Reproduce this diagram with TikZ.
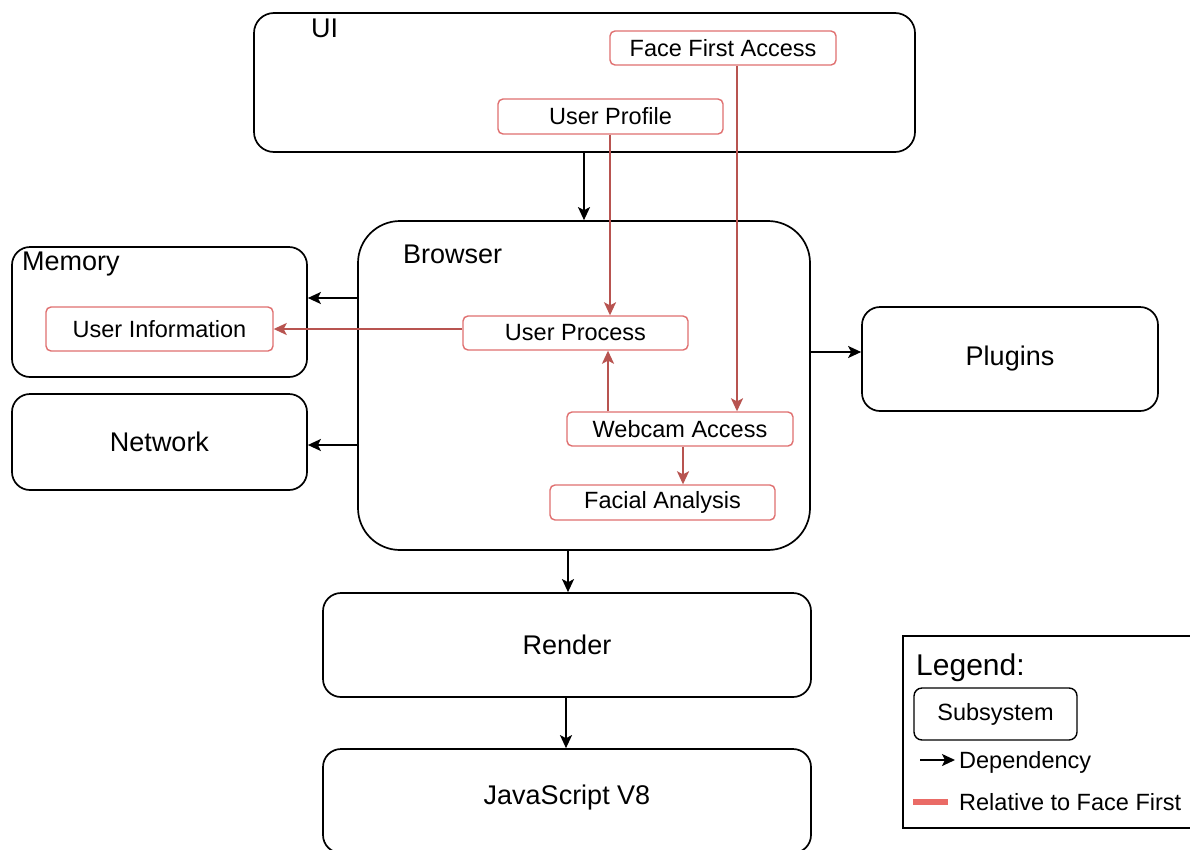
\documentclass[tikz,border=0pt]{standalone}
\usepackage{fontspec}
\setmainfont{Liberation Sans}
\usetikzlibrary{arrows.meta}
\definecolor{relline}{HTML}{B85450}
\definecolor{relbox}{HTML}{E07070}
\definecolor{relbar}{HTML}{EA6B66}
\newcommand\fsml{\fontsize{23.5}{28}\selectfont}
\newcommand\fbig{\fontsize{27}{32}\selectfont}
\newcommand\fleg{\fontsize{30}{34}\selectfont}
\tikzset{
  sub/.style={draw=black, line width=1.7pt, rounded corners=18pt, fill=white, inner sep=0pt, font=\fbig},
  rbox/.style={draw=relbox, line width=1.4pt, rounded corners=5pt, fill=white, inner sep=0pt, font=\fsml},
  dep/.style={draw=black, line width=1.7pt, -{Stealth[length=13pt,width=12pt,inset=3pt]}},
  rel/.style={draw=relline, line width=1.7pt, -{Stealth[length=13pt,width=12pt,inset=3pt]}},
  lbl/.style={inner sep=0pt, anchor=base west},
}
\begin{document}
\begin{tikzpicture}[x=1pt,y=-1pt]
\useasboundingbox (0,0) rectangle (1190,849);
\fill[white] (0,0) rectangle (1190,849);
\clip (0,0) rectangle (1190,849);
% subsystems
\node[sub, rounded corners=20pt, minimum width=661pt, minimum height=139pt] (UI) at (584.5,82.5) {};
\node[lbl, font=\fbig] (UIt) at (311,37) {UI};
\node[sub, rounded corners=42pt, minimum width=452pt, minimum height=329pt] (Browser) at (584,385.5) {};
\node[lbl, font=\fbig] (Brt) at (403,263) {Browser};
\node[sub, minimum width=295pt, minimum height=130pt] (Memory) at (159.5,312) {};
\node[lbl, font=\fbig] (Memt) at (22,270) {Memory};
\node[sub, minimum width=295pt, minimum height=96pt] (Network) at (159.5,442) {Network};
\node[sub, minimum width=296pt, minimum height=104pt] (Plugins) at (1010,359) {Plugins};
\node[sub, minimum width=488pt, minimum height=104pt] (Render) at (567,645) {Render};
\node[sub, minimum width=488pt, minimum height=104pt] (JS) at (567,801) {};
\node[inner sep=0pt, font=\fbig] (JSt) at (567,798) {JavaScript V8};
% components
\node[rbox, minimum width=226pt, minimum height=34pt] (FFA) at (723,48) {Face First Access};
\node[rbox, minimum width=225pt, minimum height=35pt] (UP) at (610.5,116.5) {User Profile};
\node[rbox, minimum width=225pt, minimum height=34pt] (UProc) at (575.5,333) {User Process};
\node[rbox, minimum width=226pt, minimum height=34pt] (Webcam) at (680,429) {Webcam Access};
\node[rbox, minimum width=225pt, minimum height=35pt] (Facial) at (662.5,502.5) {Facial Analysis};
\node[rbox, minimum width=227pt, minimum height=44pt] (UInfo) at (159.5,329) {User Information};
% helper coordinates
\coordinate (ux) at (584,0);
\coordinate (px) at (610,0);
\coordinate (fx) at (737,0);
\coordinate (wx) at (608,0);
\coordinate (ax) at (683,0);
\coordinate (my) at (0,298);
\coordinate (ny) at (0,445);
\coordinate (py) at (0,352);
\coordinate (rx) at (568,0);
\coordinate (jx) at (566,0);
% dependencies
\draw[dep] (UI.south -| ux) -- (Browser.north -| ux);
\draw[dep] (Browser.west |- my) -- (Memory.east |- my);
\draw[dep] (Browser.west |- ny) -- (Network.east |- ny);
\draw[dep] (Browser.east |- py) -- (Plugins.west |- py);
\draw[dep] (Browser.south -| rx) -- (Render.north -| rx);
\draw[dep] (Render.south -| jx) -- (JS.north -| jx);
% face first relations
\draw[rel] (UP.south -| px) -- (UProc.north -| px);
\draw[rel] (FFA.south -| fx) -- (Webcam.north -| fx);
\draw[rel] (Webcam.north -| wx) -- (UProc.south -| wx);
\draw[rel] (Webcam.south -| ax) -- (Facial.north -| ax);
\draw[rel] (UProc.west |- UInfo.east) -- (UInfo.east);
% legend
\node[draw=black, line width=1.4pt, inner sep=0pt, minimum width=300pt, minimum height=192pt] (Legend) at (1053,732) {};
\node[lbl, font=\fleg] (LegT) at (916,675) {Legend:};
\node[draw=black, line width=1.4pt, rounded corners=8pt, inner sep=0pt, minimum width=163pt, minimum height=52pt, font=\fsml] (LegSub) at (995.5,714) {Subsystem};
\coordinate (la) at (920,760);
\coordinate (lb) at (955,760);
\draw[dep] (la) -- (lb);
\node[lbl, font=\fsml] (LegDep) at (959,768) {Dependency};
\coordinate (ra) at (913,802);
\coordinate (rb) at (948,802);
\draw[relbar, line width=6pt] (ra) -- (rb);
\node[lbl, font=\fsml] (LegRel) at (959,810) {Relative to Face First};
\end{tikzpicture}
\end{document}
